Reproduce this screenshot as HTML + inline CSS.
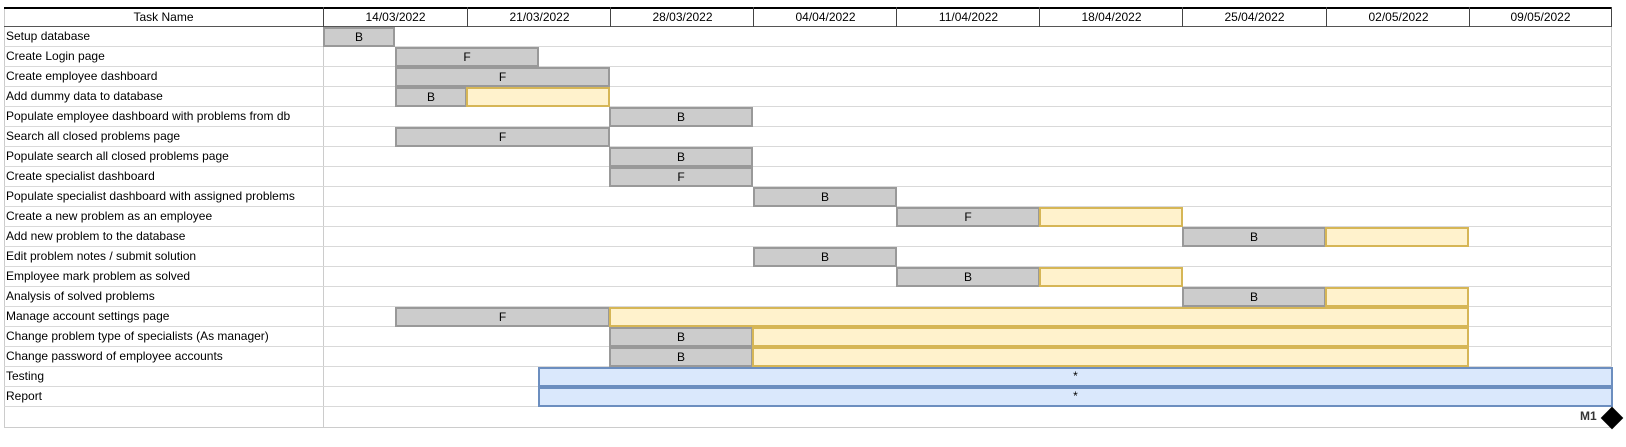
<!DOCTYPE html>
<html><head><meta charset="utf-8"><style>
body{margin:0;width:1626px;height:447px;background:#fff;position:relative;overflow:hidden;font-family:"Liberation Sans",Arial,sans-serif;font-size:12px;color:#000}
div{position:absolute;box-sizing:border-box}
.r{left:4px;width:1608px;height:1px;background:#d9d9d9}
.t{left:6px;height:20px;line-height:19px;white-space:nowrap}
.h{top:7px;height:20px;line-height:20px;text-align:center;border-left:1px solid #444}
.g{background:#ccc;border:2px solid #999;height:20px;text-align:center;line-height:16px}
.y{background:#fff2cc;border:2px solid #d6b656;height:20px}
.b{background:#dae8fc;border:2px solid #6c8ebf;height:20px;text-align:center;line-height:15px}
</style></head><body>
<div style="left:4px;top:7px;width:1608px;height:421px;border:1px solid #ccc"></div>
<div style="left:4px;top:7px;width:1608px;height:2px;background:#000"></div>
<div style="left:4px;top:26px;width:1608px;height:1px;background:#555"></div>
<div style="left:323px;top:7px;width:1px;height:421px;background:#ccc"></div>
<div style="left:4px;top:7px;width:319px;height:20px;line-height:20px;text-align:center">Task Name</div>
<div class="h" style="left:323px;width:144px">14/03/2022</div>
<div class="h" style="left:467px;width:144px">21/03/2022</div>
<div class="h" style="left:610px;width:144px">28/03/2022</div>
<div class="h" style="left:753px;width:144px">04/04/2022</div>
<div class="h" style="left:896px;width:144px">11/04/2022</div>
<div class="h" style="left:1039px;width:144px">18/04/2022</div>
<div class="h" style="left:1182px;width:144px">25/04/2022</div>
<div class="h" style="left:1326px;width:144px">02/05/2022</div>
<div class="h" style="left:1469px;width:143px;border-right:1px solid #444">09/05/2022</div>

<div class="r" style="top:46px"></div><div class="r" style="top:66px"></div><div class="r" style="top:86px"></div><div class="r" style="top:106px"></div><div class="r" style="top:126px"></div><div class="r" style="top:146px"></div><div class="r" style="top:166px"></div><div class="r" style="top:186px"></div><div class="r" style="top:206px"></div><div class="r" style="top:226px"></div><div class="r" style="top:246px"></div><div class="r" style="top:266px"></div><div class="r" style="top:286px"></div><div class="r" style="top:306px"></div><div class="r" style="top:326px"></div><div class="r" style="top:346px"></div><div class="r" style="top:366px"></div><div class="r" style="top:386px"></div><div class="r" style="top:406px"></div>

<div class="t" style="top:27px">Setup database</div>
<div class="t" style="top:47px">Create Login page</div>
<div class="t" style="top:67px">Create employee dashboard</div>
<div class="t" style="top:87px">Add dummy data to database</div>
<div class="t" style="top:107px">Populate employee dashboard with problems from db</div>
<div class="t" style="top:127px">Search all closed problems page</div>
<div class="t" style="top:147px">Populate search all closed problems page</div>
<div class="t" style="top:167px">Create specialist dashboard</div>
<div class="t" style="top:187px">Populate specialist dashboard with assigned problems</div>
<div class="t" style="top:207px">Create a new problem as an employee</div>
<div class="t" style="top:227px">Add new problem to the database</div>
<div class="t" style="top:247px">Edit problem notes / submit solution</div>
<div class="t" style="top:267px">Employee mark problem as solved</div>
<div class="t" style="top:287px">Analysis of solved problems</div>
<div class="t" style="top:307px">Manage account settings page</div>
<div class="t" style="top:327px">Change problem type of specialists (As manager)</div>
<div class="t" style="top:347px">Change password of employee accounts</div>
<div class="t" style="top:367px">Testing</div>
<div class="t" style="top:387px">Report</div>

<div class="g" style="top:27px;left:323px;width:72px">B</div>
<div class="g" style="top:47px;left:395px;width:144px">F</div>
<div class="g" style="top:67px;left:395px;width:215px">F</div>
<div class="g" style="top:87px;left:395px;width:72px">B</div>
<div class="y" style="top:87px;left:466px;width:144px"></div>
<div class="g" style="top:107px;left:609px;width:144px">B</div>
<div class="g" style="top:127px;left:395px;width:215px">F</div>
<div class="g" style="top:147px;left:609px;width:144px">B</div>
<div class="g" style="top:167px;left:609px;width:144px">F</div>
<div class="g" style="top:187px;left:753px;width:144px">B</div>
<div class="g" style="top:207px;left:896px;width:144px">F</div>
<div class="y" style="top:207px;left:1039px;width:144px"></div>
<div class="g" style="top:227px;left:1182px;width:144px">B</div>
<div class="y" style="top:227px;left:1325px;width:144px"></div>
<div class="g" style="top:247px;left:753px;width:144px">B</div>
<div class="g" style="top:267px;left:896px;width:144px">B</div>
<div class="y" style="top:267px;left:1039px;width:144px"></div>
<div class="g" style="top:287px;left:1182px;width:144px">B</div>
<div class="y" style="top:287px;left:1325px;width:144px"></div>
<div class="g" style="top:307px;left:395px;width:215px">F</div>
<div class="y" style="top:307px;left:609px;width:860px"></div>
<div class="g" style="top:327px;left:609px;width:144px">B</div>
<div class="y" style="top:327px;left:752px;width:717px"></div>
<div class="g" style="top:347px;left:609px;width:144px">B</div>
<div class="y" style="top:347px;left:752px;width:717px"></div>
<div class="b" style="top:367px;left:538px;width:1075px">*</div>
<div class="b" style="top:387px;left:538px;width:1075px">*</div>

<div style="left:1580px;top:409px;font-size:12px;font-weight:bold;color:#333">M1</div>
<div style="left:1604px;top:410px;width:16px;height:16px;background:#000;transform:rotate(45deg)"></div>
</body></html>
